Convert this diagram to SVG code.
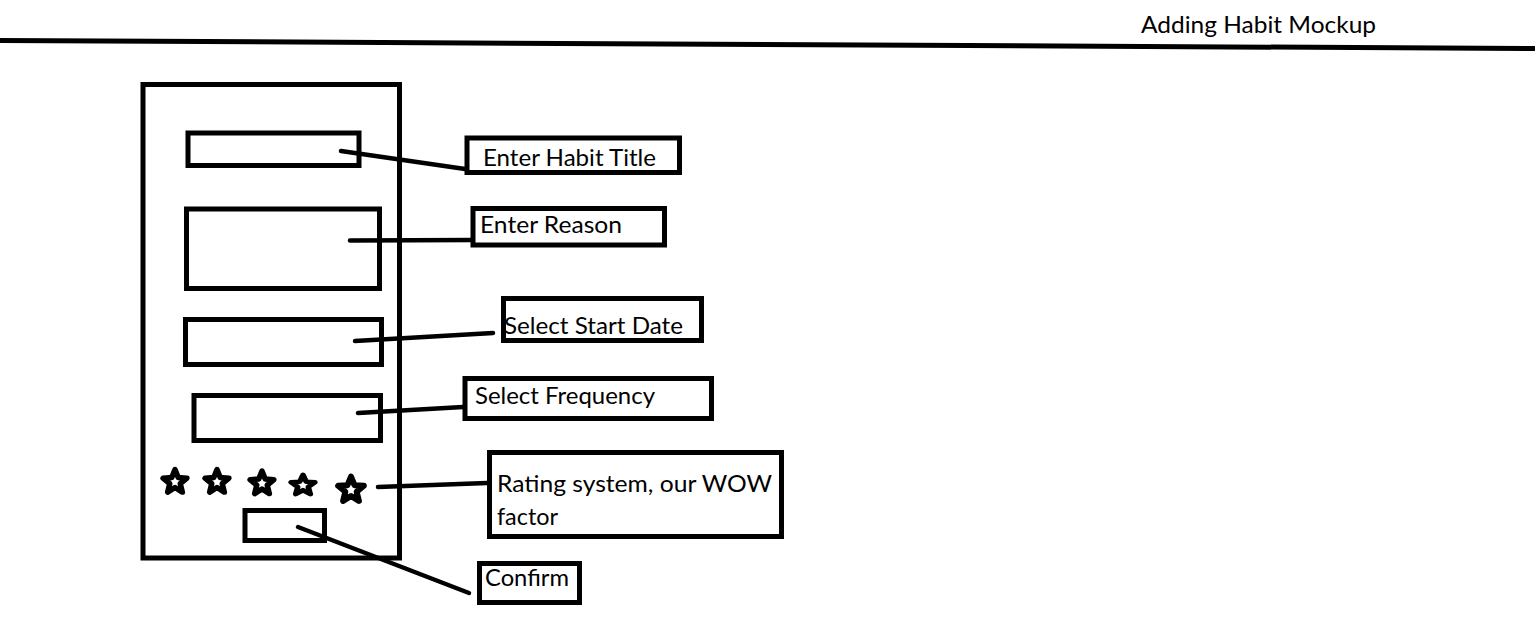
<svg xmlns="http://www.w3.org/2000/svg" xmlns:xlink="http://www.w3.org/1999/xlink" width="1535" height="629" viewBox="0 0 1535 629">
<style>
.box{fill:#fff;stroke:#000;stroke-width:5}
.ln{stroke:#000;stroke-width:4.5;stroke-linecap:round;fill:none}
.t{font-family:Lato,"Open Sans","Liberation Sans",sans-serif;font-size:23px;fill:#000}
.star{fill:#fff;stroke:#000;stroke-width:5.5;stroke-linejoin:round}
</style>
<defs>
<path id="star" class="star" d="M0,-12.5 L3.23,-4.45 L11.89,-3.86 L5.23,1.70 L7.35,10.11 L0,5.5 L-7.35,10.11 L-5.23,1.70 L-11.89,-3.86 L-3.23,-4.45 Z"/>
</defs>
<rect width="1535" height="629" fill="#fff"/>
<g id="header">
<line x1="0" y1="40.5" x2="1535" y2="48.5" stroke="#000" stroke-width="5"/>
<text class="t" x="1141" y="32.5" textLength="235" lengthAdjust="spacingAndGlyphs">Adding Habit Mockup</text>
</g>
<g id="phone">
<rect class="box" x="143" y="84.5" width="256.5" height="473.5"/>
</g>
<g id="title-field"><rect class="box" x="188" y="133" width="171" height="32.5"/></g>
<g id="reason-field"><rect class="box" x="186.5" y="209" width="193" height="79.5"/></g>
<g id="date-field"><rect class="box" x="185.5" y="319.5" width="196" height="45"/></g>
<g id="frequency-field"><rect class="box" x="194" y="395.5" width="186.5" height="45"/></g>
<g id="stars">
<use xlink:href="#star" href="#star" transform="translate(175,482)"/>
<use xlink:href="#star" href="#star" transform="translate(217,482)"/>
<use xlink:href="#star" href="#star" transform="translate(262,483.5)"/>
<use xlink:href="#star" href="#star" transform="translate(303,485.5) scale(1,0.85)"/>
<use xlink:href="#star" href="#star" transform="translate(351,490) scale(1.08)"/>
</g>
<g id="confirm-button"><rect class="box" x="245" y="510.5" width="79.5" height="30"/></g>
<g id="connectors">
<line class="ln" x1="341" y1="151" x2="472" y2="170"/>
<line class="ln" x1="350" y1="240.5" x2="473" y2="240"/>
<line class="ln" x1="355" y1="341" x2="493" y2="333"/>
<line class="ln" x1="358" y1="413" x2="463" y2="407"/>
<line class="ln" x1="378" y1="487" x2="487" y2="483"/>
<line class="ln" x1="298" y1="527" x2="469" y2="593"/>
</g>
<g id="label-title"><rect class="box" x="467" y="138" width="212.5" height="34.5"/><text class="t" x="483" y="166" textLength="173" lengthAdjust="spacingAndGlyphs">Enter Habit Title</text></g>
<g id="label-reason"><rect class="box" x="473" y="208.5" width="191.5" height="36.5"/><text class="t" x="480" y="233" textLength="142" lengthAdjust="spacingAndGlyphs">Enter Reason</text></g>
<g id="label-date"><rect class="box" x="503.5" y="298.5" width="198" height="42"/><text class="t" x="504" y="334" textLength="179" lengthAdjust="spacingAndGlyphs">Select Start Date</text></g>
<g id="label-frequency"><rect class="box" x="465" y="378.5" width="246.5" height="40"/><text class="t" x="475" y="404" textLength="180" lengthAdjust="spacingAndGlyphs">Select Frequency</text></g>
<g id="label-rating"><rect class="box" x="489.5" y="452.5" width="292" height="84"/><text class="t" x="497" y="492" textLength="275" lengthAdjust="spacingAndGlyphs">Rating system, our WOW</text><text class="t" x="497" y="525" textLength="61" lengthAdjust="spacingAndGlyphs">factor</text></g>
<g id="label-confirm"><rect class="box" x="479.5" y="563.5" width="100" height="39"/><text class="t" x="485" y="586" textLength="84" lengthAdjust="spacingAndGlyphs">Confirm</text></g>
</svg>
